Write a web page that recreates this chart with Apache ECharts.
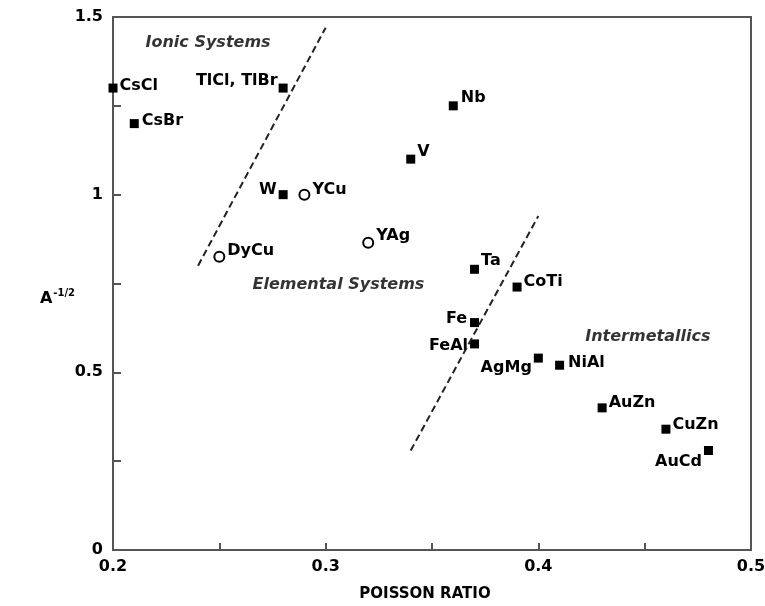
<!DOCTYPE html>
<html>
<head>
<meta charset="utf-8">
<script src="https://cdn.jsdelivr.net/npm/echarts@6/dist/echarts.min.js"></script>
<style>
  html, body { margin: 0; padding: 0; background: #fff; }
  #chart { width: 765px; height: 606px; }
</style>
</head>
<body>
<div id="chart"></div>
<script>
// Poisson ratio vs A^-1/2 for ionic, elemental and intermetallic systems

// Filled-square materials
const solidNames = ['CsCl', 'CsBr', 'TlCl, TlBr', 'W', 'Nb', 'V', 'Ta', 'CoTi', 'Fe', 'FeAl', 'AgMg', 'NiAl', 'AuZn', 'CuZn', 'AuCd'];
const solidPoisson = [0.20, 0.21, 0.28, 0.28, 0.36, 0.34, 0.37, 0.39, 0.37, 0.37, 0.40, 0.41, 0.43, 0.46, 0.48];
const solidA = [1.30, 1.20, 1.30, 1.00, 1.25, 1.10, 0.79, 0.74, 0.64, 0.58, 0.54, 0.52, 0.40, 0.34, 0.28];

// Open-circle materials
const openNames = ['YCu', 'DyCu', 'YAg'];
const openPoisson = [0.29, 0.25, 0.32];
const openA = [1.00, 0.825, 0.865];

// Dashed boundaries between the regimes
const boundaryIonic = [[0.24, 0.80], [0.30, 1.47]];
const boundaryInter = [[0.34, 0.28], [0.40, 0.94]];

// Region captions
const regionNames = ['Ionic Systems', 'Elemental Systems', 'Intermetallics'];
const regionPoisson = [0.2447, 0.306, 0.4515];
const regionA = [1.427, 0.746, 0.60];

// Axis tick labels
const xTickLabels = [0.2, 0.3, 0.4, 0.5];
const yTickLabels = [0, 0.5, 1, 1.5];

// Label placement for each material
const labelPlacement = {
  'CsCl':       { position: 'right', offset: [-1, -2] },
  'CsBr':       { position: 'right', offset: [0, -3] },
  'TlCl, TlBr': { position: 'left',  offset: [2, -7] },
  'W':          { position: 'left',  offset: [1, -5] },
  'Nb':         { position: 'right', offset: [0, -8] },
  'V':          { position: 'right', offset: [-1, -7] },
  'Ta':         { position: 'right', offset: [-1, -8] },
  'CoTi':       { position: 'right', offset: [-1, -5] },
  'Fe':         { position: 'left',  offset: [0, -4] },
  'FeAl':       { position: 'left',  offset: [1, 2] },
  'AgMg':       { position: 'left',  offset: [1, 10] },
  'NiAl':       { position: 'right', offset: [1, -2] },
  'AuZn':       { position: 'right', offset: [-1, -5] },
  'CuZn':       { position: 'right', offset: [-1, -4] },
  'AuCd':       { position: 'left',  offset: [1, 11] },
  'YCu':        { position: 'right', offset: [-1, -5] },
  'DyCu':       { position: 'right', offset: [-1, -6] },
  'YAg':        { position: 'right', offset: [-1, -7] }
};

const FONT = '"DejaVu Sans", sans-serif';
const INK = '#000';
const AXIS = '#555';

function isMember(v, list) {
  return list.some(t => Math.abs(t - v) < 1e-6);
}

function pointData(names, xs, ys) {
  return names.map((n, i) => {
    const p = labelPlacement[n];
    return {
      name: n,
      value: [xs[i], ys[i]],
      label: { position: p.position, offset: p.offset }
    };
  });
}

const pointLabel = {
  show: true,
  formatter: '{b}',
  color: INK,
  fontFamily: FONT,
  fontWeight: 'bold',
  fontSize: 16,
  distance: 3
};

const chart = echarts.init(document.getElementById('chart'), null, { renderer: 'canvas' });

chart.setOption({
  backgroundColor: '#fff',
  animation: false,
  grid: {
    left: 113, right: 14, top: 17, bottom: 56,
    containLabel: false,
    outerBoundsMode: 'none',
    show: true, borderColor: AXIS, borderWidth: 2
  },
  xAxis: {
    type: 'value',
    min: 0.2, max: 0.5, interval: 0.05,
    name: 'POISSON RATIO',
    nameLocation: 'middle',
    nameGap: 37,
    nameMoveOverlap: false,
    nameTextStyle: { color: INK, fontFamily: FONT, fontWeight: 'bold', fontSize: 15, padding: [0, 14, 0, 0] },
    axisLine: { show: true, lineStyle: { color: AXIS, width: 2 } },
    axisTick: { show: true, inside: true, length: 7, lineStyle: { color: AXIS, width: 2 } },
    axisLabel: {
      show: true,
      showMinLabel: true, showMaxLabel: true,
      margin: 9,
      color: INK, fontFamily: FONT, fontWeight: 'bold', fontSize: 16,
      formatter: v => isMember(v, xTickLabels) ? String(Number(v.toFixed(2))) : ''
    },
    splitLine: { show: false }
  },
  yAxis: {
    type: 'value',
    min: 0, max: 1.5, interval: 0.25,
    name: '{a|A}{s|-1/2}',
    nameLocation: 'middle',
    nameRotate: 0,
    nameGap: 38,
    nameMoveOverlap: false,
    nameTextStyle: {
      padding: [28, 0, 0, 0],
      rich: {
        a: { color: INK, fontFamily: FONT, fontWeight: 'bold', fontSize: 16, verticalAlign: 'bottom' },
        s: { color: INK, fontFamily: FONT, fontWeight: 'bold', fontSize: 10, verticalAlign: 'top', padding: [0, 0, 8, 1] }
      }
    },
    axisLine: { show: true, lineStyle: { color: AXIS, width: 2 } },
    axisTick: { show: true, inside: true, length: 8, lineStyle: { color: AXIS, width: 2 } },
    axisLabel: {
      show: true,
      showMinLabel: true, showMaxLabel: true,
      margin: 10,
      color: INK, fontFamily: FONT, fontWeight: 'bold', fontSize: 16,
      formatter: v => isMember(v, yTickLabels) ? String(Number(v.toFixed(2))) : ''
    },
    splitLine: { show: false }
  },
  series: [
    {
      type: 'line',
      data: boundaryIonic,
      symbol: 'none',
      lineStyle: { color: '#222', width: 2, type: [7, 4] },
      silent: true
    },
    {
      type: 'line',
      data: boundaryInter,
      symbol: 'none',
      lineStyle: { color: '#222', width: 2, type: [7, 4] },
      silent: true
    },
    {
      type: 'scatter',
      symbol: 'rect',
      symbolSize: 9,
      itemStyle: { color: '#000', opacity: 1 },
      label: pointLabel,
      data: pointData(solidNames, solidPoisson, solidA)
    },
    {
      type: 'scatter',
      symbol: 'circle',
      symbolSize: 10,
      itemStyle: { color: '#fff', borderColor: '#000', borderWidth: 2, opacity: 1 },
      label: pointLabel,
      data: pointData(openNames, openPoisson, openA)
    },
    {
      type: 'scatter',
      symbolSize: 0,
      silent: true,
      label: {
        show: true,
        position: 'inside',
        formatter: '{b}',
        color: INK,
        fontFamily: FONT,
        fontWeight: 'bold',
        fontStyle: 'italic',
        fontSize: 16
      },
      data: regionNames.map((n, i) => ({ name: n, value: [regionPoisson[i], regionA[i]] }))
    }
  ]
});
</script>
</body>
</html>
